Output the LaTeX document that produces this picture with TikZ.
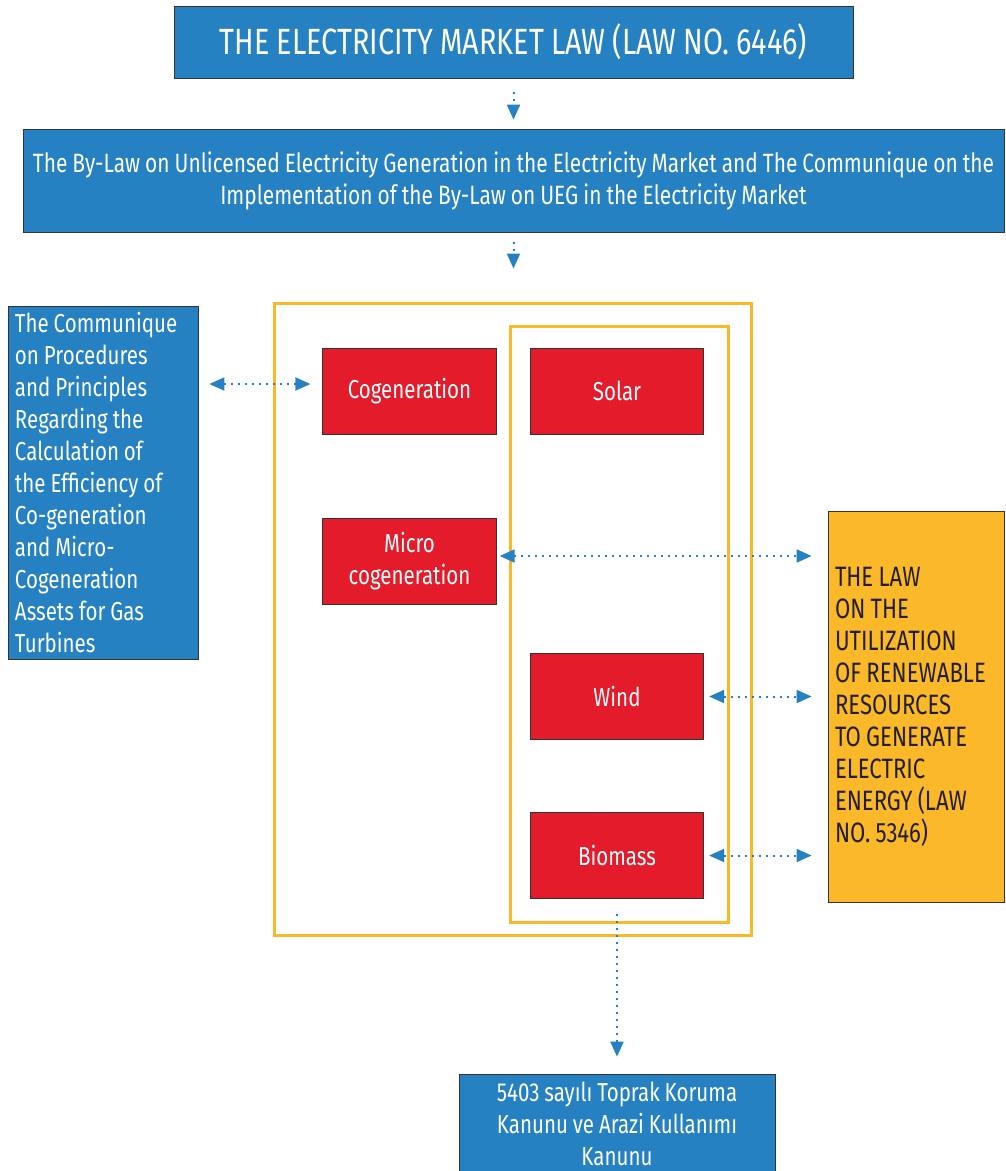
\documentclass[tikz,border=0pt]{standalone}
\usepackage{fontspec}
\setmainfont{Fira Sans}[FakeStretch=0.79, WordSpace=0.9]
\usetikzlibrary{arrows.meta}
\definecolor{cblue}{HTML}{2581C2}
\definecolor{cred}{HTML}{E31B2A}
\definecolor{cyellow}{HTML}{FBB829}
\definecolor{cdark}{HTML}{231F20}
\begin{document}
\begin{tikzpicture}[x=1pt,y=-1pt,
  box/.style={draw=black!80, line width=0.8pt, inner sep=0pt, text=white,
    font=\fontsize{26}{32}\selectfont, align=center},
  bluebox/.style={box, fill=cblue},
  redbox/.style={box, fill=cred, minimum width=173.5pt, minimum height=86pt},
  frame/.style={draw=cyellow, line width=3pt, inner sep=0pt},
  conn/.style={cblue, line width=2pt, dash pattern=on 2pt off 5pt, -{Triangle[length=15pt,width=13pt]}},
  dconn/.style={cblue, line width=2pt, dash pattern=on 2pt off 5pt, {Triangle[length=15pt,width=13pt]}-{Triangle[length=15pt,width=13pt]}}
]
\clip (0,0) rectangle (1006,1171);
\fill[white] (0,0) rectangle (1006,1171);

\node[frame, minimum width=477pt, minimum height=632pt] (outer) at (512.5,619) {};
\node[frame, minimum width=218pt, minimum height=596pt] (inner) at (619,624) {};

\node[bluebox, minimum width=679pt, minimum height=72pt, font=\fontsize{36.5}{40}\selectfont] (law) at (513.5,42) {THE ELECTRICITY MARKET LAW (LAW NO. 6446)};
\node[bluebox, minimum width=981pt, minimum height=103pt, font=\fontsize{26.5}{32}\selectfont] (bylaw) at (513.5,180.5) {The By-Law on Unlicensed Electricity Generation in the Electricity Market and The Communique on the\\Implementation of the By-Law on UEG in the Electricity Market};
\node[bluebox, minimum width=190pt, minimum height=353pt, align=flush left, text width=176pt] (comm) at (103,482.5) {The Communique\\on Procedures\\and Principles\\Regarding the\\Calculation of\\the Efficiency of\\Co-generation\\and Micro-\\Cogeneration\\Assets for Gas\\Turbines};

\node[redbox] (cogen) at (409.5,391) {Cogeneration};
\node[redbox] (solar) at (617,391) {Solar};
\node[redbox] (micro) at (409.5,561) {Micro\\cogeneration};
\node[redbox] (wind) at (617,696.5) {Wind};
\node[redbox] (biomass) at (617,855.5) {Biomass};

\node[box, fill=cyellow, text=cdark, minimum width=176pt, minimum height=391pt, align=flush left, text width=162pt, font=\fontsize{28}{32}\selectfont] (renew) at (916,706.5) {THE LAW\\ON THE\\UTILIZATION\\OF RENEWABLE\\RESOURCES\\TO GENERATE\\ELECTRIC\\ENERGY (LAW\\NO. 5346)};

\node[bluebox, minimum width=316pt, minimum height=100pt] (soil) at (617,1124) {5403 sayılı Toprak Koruma\\Kanunu ve Arazi Kullanımı\\Kanunu};

\draw[conn, shorten <=14pt, shorten >=9pt] (law.south) -- (bylaw.north);
\draw[conn, shorten <=10pt, shorten >=33pt] (bylaw.south) -- (bylaw.south |- outer.north);
\draw[dconn, shorten <=11pt, shorten >=12pt] ([yshift=7pt]comm.east |- cogen.west) -- ([yshift=7pt]cogen.west);
\draw[dconn, shorten <=3pt, shorten >=16pt] ([yshift=5pt]micro.east) -- ([yshift=5pt]renew.west |- micro.east);
\draw[dconn, shorten <=5pt, shorten >=16pt] (wind.east) -- (renew.west |- wind.east);
\draw[dconn, shorten <=5pt, shorten >=16pt] (biomass.east) -- (renew.west |- biomass.east);
\draw[conn, shorten <=15pt, shorten >=17pt] (biomass.south) -- (soil.north);
\end{tikzpicture}
\end{document}
